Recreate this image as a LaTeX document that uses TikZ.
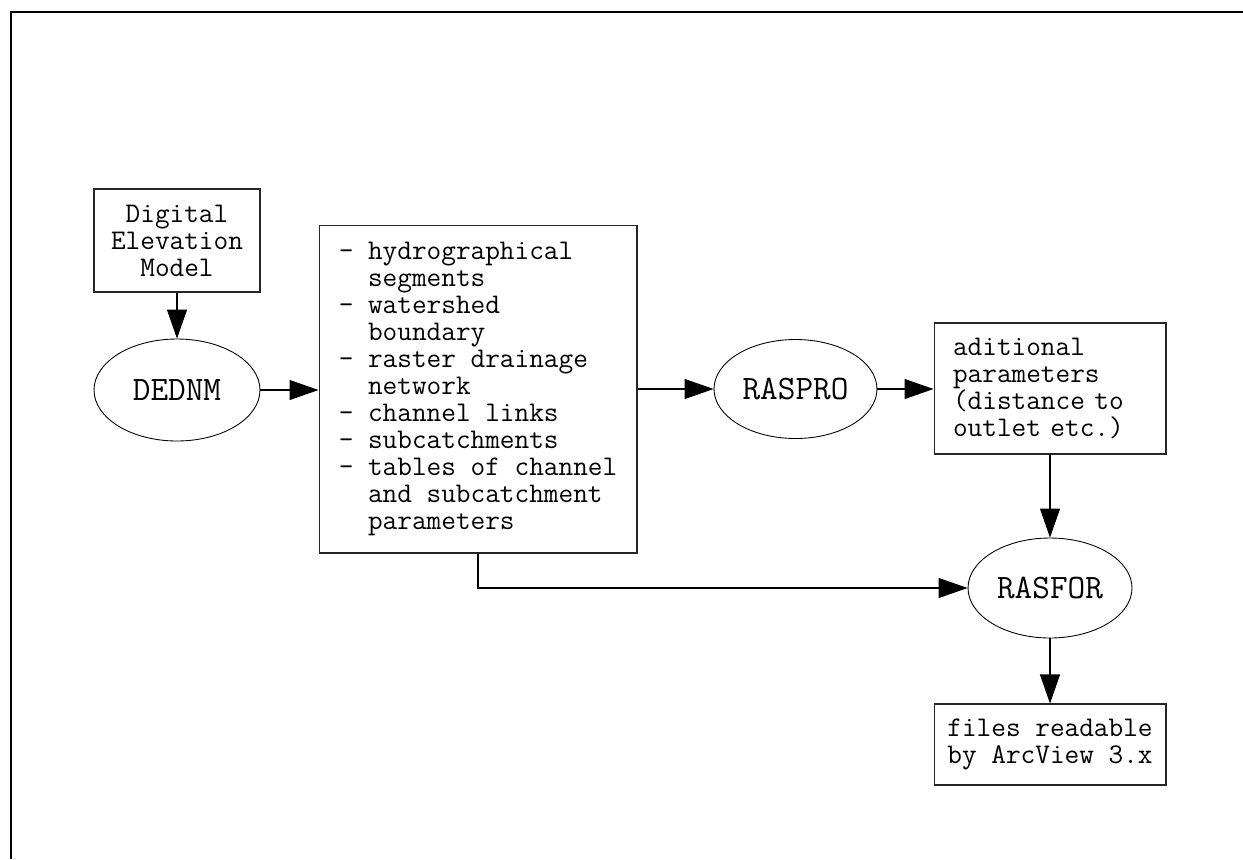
\documentclass[tikz,border=0pt]{standalone}
\usepackage{fontspec}
\usetikzlibrary{shapes.geometric,arrows.meta}

\begin{document}
\begin{tikzpicture}[x=0.02cm, y=-0.02cm,
    box/.style={draw=black!85, line width=0.6pt, inner sep=0pt,
      font=\ttfamily\fontsize{16.2}{15.4}\selectfont},
    prog/.style={draw, ellipse, line width=0.5pt, inner sep=0pt,
      font=\ttfamily\fontsize{19.5}{21}\selectfont},
    arr/.style={line width=0.6pt, draw=black,
      -{Triangle[length=0.58cm, width=0.4cm]}}]
   \useasboundingbox (0,0) rectangle (1243,859);
   % frame (cut on the right and at the bottom)
   \draw[line width=1.4pt] (11,859) -- (11,12) -- (1243,12);

   \node[box, align=center, minimum width=3.32cm, minimum height=2.06cm]
      (dem) at (177,240.5) {Digital\\Elevation\\Model};
   \node[prog, minimum width=3.32cm, minimum height=2.04cm]
      (dednm) at (177,390) {DEDNM};
   \node[box, align=left, minimum width=6.36cm, minimum height=6.56cm]
      (layers) at (478,389) {- hydrographical\\\hphantom{- }segments\\
        - watershed\\\hphantom{- }boundary\\
        - raster drainage\\\hphantom{- }network\\
        - channel links\\- subcatchments\\
        - tables of channel\\\hphantom{- }and subcatchment\\
        \hphantom{- }parameters};
   \node[prog, minimum width=3.26cm, minimum height=1.98cm]
      (raspro) at (795.5,389) {RASPRO};
   \node[box, align=left, text width=3.88cm, inner xsep=0.38cm,
      minimum height=2.62cm]
      (extra) at (1050,388.5) {aditional\\parameters\\(distance to\\outlet etc.)};
   \node[prog, minimum width=3.28cm, minimum height=2.0cm]
      (rasfor) at (1050,588) {RASFOR};
   \node[box, align=center, minimum width=4.64cm, minimum height=1.62cm]
      (files) at (1050,744.5) {files readable\\by ArcView 3.x};

   \draw[arr] (dem) -- (dednm);
   \draw[arr] (dednm.east) -- (dednm.east -| layers.west);
   \draw[arr] (layers.east |- raspro.west) -- (raspro.west);
   \draw[arr] (raspro.east) -- (raspro.east -| extra.west);
   \draw[arr] (extra) -- (rasfor);
   \draw[arr] (layers.south) |- (rasfor.west);
   \draw[arr] (rasfor) -- (files);
\end{tikzpicture}
\end{document}
